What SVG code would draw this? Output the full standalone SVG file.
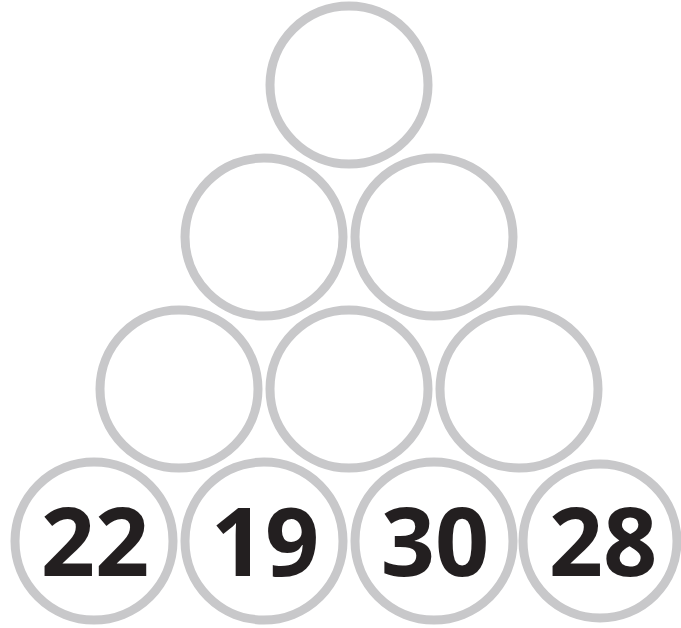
<svg xmlns="http://www.w3.org/2000/svg" width="681" height="628" viewBox="0 0 681 628">
<style>
.c{fill:none;stroke:#c8c8ca;stroke-width:9}
.t{font-family:"Open Sans","Liberation Sans",sans-serif;font-weight:700;font-size:95px;fill:#231f20;text-anchor:middle}
</style>
<rect width="681" height="628" fill="#fff"/>
<g id="r1c1"><circle class="c" cx="349" cy="85" r="79"/></g>
<g id="r2c1"><circle class="c" cx="264" cy="237" r="79"/></g>
<g id="r2c2"><circle class="c" cx="434" cy="237" r="79"/></g>
<g id="r3c1"><circle class="c" cx="179" cy="389" r="79"/></g>
<g id="r3c2"><circle class="c" cx="349" cy="389" r="79"/></g>
<g id="r3c3"><circle class="c" cx="519" cy="389" r="79"/></g>
<g id="r4c1"><circle class="c" cx="94" cy="541" r="79"/><text class="t" x="95" y="576">22</text></g>
<g id="r4c2"><circle class="c" cx="264" cy="541" r="79"/><text class="t" x="265" y="576">19</text></g>
<g id="r4c3"><circle class="c" cx="434" cy="541" r="79"/><text class="t" x="435" y="576">30</text></g>
<g id="r4c4"><circle class="c" cx="600" cy="541" r="77"/><text class="t" x="603" y="576">28</text></g>
<g id="connectors"></g>
</svg>
